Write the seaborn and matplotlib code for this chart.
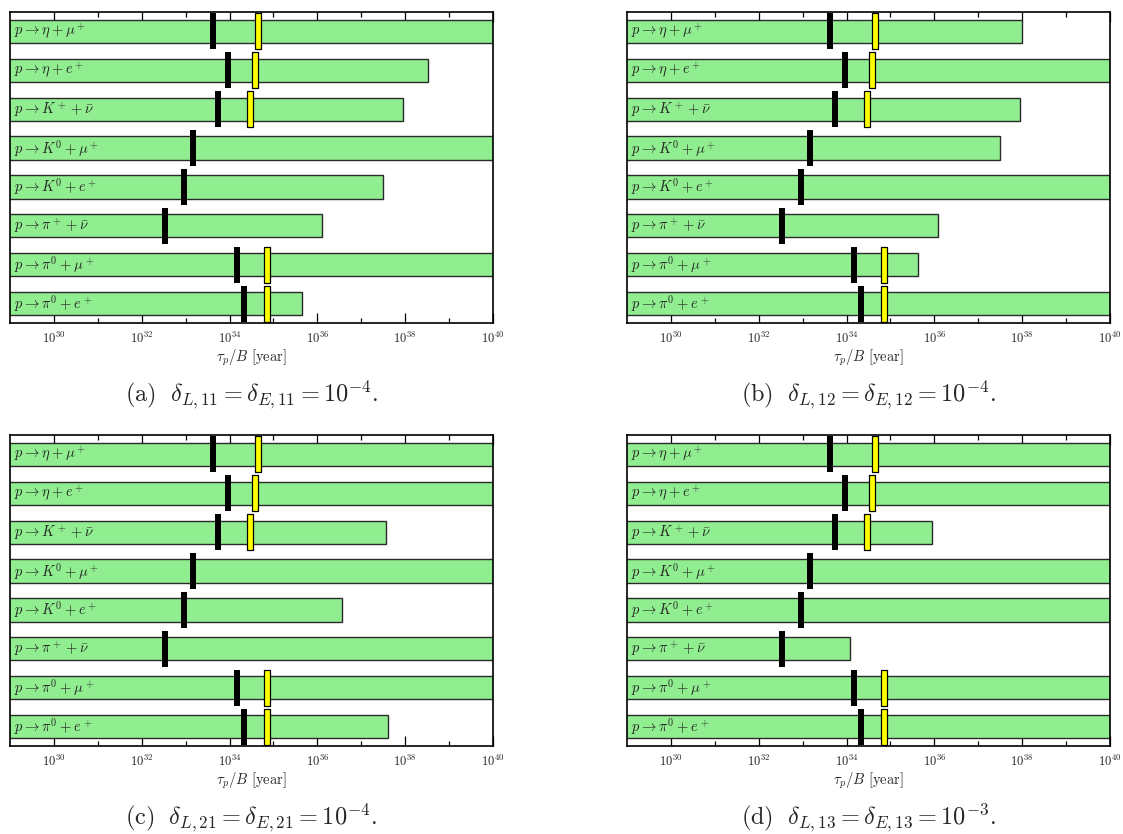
import numpy as np
import pandas as pd
import matplotlib
matplotlib.use("Agg")
import matplotlib.pyplot as plt
from matplotlib.path import Path
from matplotlib.ticker import FixedLocator, FixedFormatter
import seaborn as sns

# 衰变道（从上到下）
channels = [r"$p\to\eta+\mu^+$", r"$p\to\eta+e^+$", r"$p\to K^+ + \bar{\nu}$",
            r"$p\to K^0+\mu^+$", r"$p\to K^0+e^+$", r"$p\to\pi^+ + \bar{\nu}$",
            r"$p\to\pi^0+\mu^+$", r"$p\to\pi^0+e^+$"]

# log10(tau_p/B [year])
current_limit = [33.62, 33.96, 33.73, 33.16, 32.97, 32.54, 34.16, 34.34]
future_limit = [34.65, 34.59, 34.46, np.nan, np.nan, np.nan, 34.85, 34.86]

reach_a = [40.0, 38.53, 37.96, 40.0, 37.49, 36.10, 40.0, 35.64]
reach_b = [38.0, 40.0, 37.95, 37.49, 40.0, 36.09, 35.63, 40.0]
reach_c = [40.0, 40.0, 37.57, 40.0, 36.55, 40.0, 40.0, 37.60]
reach_d = [40.0, 40.0, 35.95, 40.0, 40.0, 34.09, 40.0, 40.0]

captions = [r"$\mathrm{(a)}\ \ \delta_{L,11}=\delta_{E,11}=10^{-4}.$",
            r"$\mathrm{(b)}\ \ \delta_{L,12}=\delta_{E,12}=10^{-4}.$",
            r"$\mathrm{(c)}\ \ \delta_{L,21}=\delta_{E,21}=10^{-4}.$",
            r"$\mathrm{(d)}\ \ \delta_{L,13}=\delta_{E,13}=10^{-3}.$"]

major_ticks = [30, 32, 34, 36, 38, 40]
minor_ticks = [31, 33, 35, 37, 39]

sns.set_style("ticks")
plt.rcParams['mathtext.fontset'] = 'cm'
plt.rcParams['font.family'] = ['DejaVu Serif']

W, H = 1123, 834
fig = plt.figure(figsize=(W / 100, H / 100), dpi=100)

# 轴的位置（像素）：left, top, right, bottom
boxes = [(10, 12, 493, 323), (627, 12, 1110, 323),
         (10, 435, 493, 746), (627, 435, 1110, 746)]
caption_base = [402, 825]

# 竖条形标记
rect = Path([(-0.07, -0.5), (0.07, -0.5), (0.07, 0.5), (-0.07, 0.5), (-0.07, -0.5)],
            [Path.MOVETO, Path.LINETO, Path.LINETO, Path.LINETO, Path.CLOSEPOLY])

for k, reach in enumerate([reach_a, reach_b, reach_c, reach_d]):
    l, t, r, b = boxes[k]
    ax = fig.add_axes([l / W, 1 - b / H, (r - l) / W, (b - t) / H])
    df = pd.DataFrame({"channel": channels, "reach": reach,
                       "current": current_limit, "future": future_limit})

    sns.barplot(data=df, x="reach", y="channel", order=channels, orient="h",
                color="lightgreen", saturation=1, width=0.6,
                edgecolor="#2a2a2a", linewidth=1.0, ax=ax)
    sns.stripplot(data=df, x="current", y="channel", order=channels, orient="h",
                  jitter=False, marker=rect, size=26, color="black",
                  linewidth=0, ax=ax, zorder=4)
    sns.stripplot(data=df, x="future", y="channel", order=channels, orient="h",
                  jitter=False, marker=rect, size=26, color="yellow",
                  edgecolor="black", linewidth=0.9, ax=ax, zorder=4)

    for i, name in enumerate(channels):
        ax.text(0.008, i, name, transform=ax.get_yaxis_transform(),
                ha="left", va="center", fontsize=10.5, zorder=5)

    ax.set_xlim(29, 40)
    ax.set_ylim(7.5, -0.5)
    ax.set_yticks([])
    ax.set_ylabel("")
    ax.xaxis.set_major_locator(FixedLocator(major_ticks))
    ax.xaxis.set_major_formatter(FixedFormatter([rf"$10^{{{v}}}$" for v in major_ticks]))
    ax.xaxis.set_minor_locator(FixedLocator(minor_ticks))
    ax.tick_params(axis="x", which="both", direction="in", top=True, bottom=True,
                   width=0.9, color="black", labelsize=9, pad=6)
    ax.tick_params(axis="x", which="major", length=7)
    ax.tick_params(axis="x", which="minor", length=3.5)
    ax.set_xlabel(r"$\tau_p/B\ [\mathrm{year}]$", fontsize=10.5, labelpad=1)
    for s in ax.spines.values():
        s.set_visible(True)
        s.set_linewidth(1.2)
        s.set_color("black")

    fig.text((l + r) / 2 / W, 1 - caption_base[k // 2] / H, captions[k],
             ha="center", va="baseline", fontsize=17.5)

plt.savefig("out.png", dpi=100)
